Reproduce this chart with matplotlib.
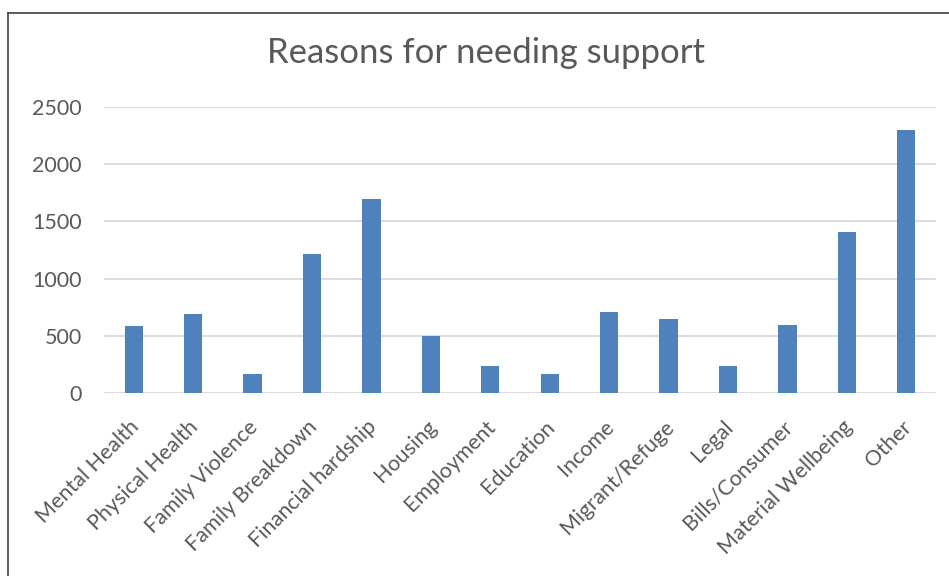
import matplotlib
matplotlib.use("Agg")
import matplotlib.pyplot as plt
from matplotlib.lines import Line2D
from matplotlib.transforms import ScaledTranslation

categories = ["Mental Health", "Physical Health", "Family Violence", "Family Breakdown",
              "Financial hardship", "Housing", "Employment", "Education", "Income",
              "Migrant/Refuge", "Legal", "Bills/Consumer", "Material Wellbeing", "Other"]
counts = [590, 690, 166, 1217, 1694, 500, 236, 163, 710, 649, 233, 591, 1409, 2302]
y_ticks = [0, 500, 1000, 1500, 2000, 2500]

plt.rcParams["font.family"] = ["Lato", "DejaVu Sans"]
text_color = "#595959"

fig = plt.figure(figsize=(9.49, 5.76), dpi=100)
ax = fig.add_axes([104 / 949, 1 - 393 / 576, 832 / 949, 286 / 576])

x = range(len(categories))
ax.bar(x, counts, width=0.31, color="#4F81BD", zorder=3)

ax.set_xlim(-0.5, len(categories) - 0.5)
ax.set_ylim(0, 2500)
ax.set_yticks(y_ticks)
ax.set_yticklabels([str(v) for v in y_ticks], fontsize=15.5, color=text_color)
ax.set_xticks(list(x))
ax.set_xticklabels(categories, rotation=45, ha="right", va="top",
                   rotation_mode="anchor", fontsize=15.5, color=text_color)
ax.tick_params(axis="y", length=0, pad=16)
ax.tick_params(axis="x", length=0, pad=17)
# nudge the slanted category labels slightly left
shift = ScaledTranslation(-5 / 100, 0, fig.dpi_scale_trans)
for lbl in ax.get_xticklabels():
    lbl.set_transform(lbl.get_transform() + shift)
ax.grid(axis="y", color="#d9d9d9", linewidth=1.3, zorder=0)
for s in ax.spines.values():
    s.set_visible(False)

fig.text(486 / 949, 1 - 63 / 576, "Reasons for needing support", ha="center",
         va="baseline", fontsize=25, color=text_color)

# chart frame (top and left edges)
fig.add_artist(Line2D([8 / 949, 1], [1 - 13 / 576, 1 - 13 / 576],
                      transform=fig.transFigure, color="#404040", linewidth=1.2))
fig.add_artist(Line2D([8 / 949, 8 / 949], [0, 1 - 13 / 576],
                      transform=fig.transFigure, color="#404040", linewidth=1.2))

fig.savefig("out.png", dpi=100)
